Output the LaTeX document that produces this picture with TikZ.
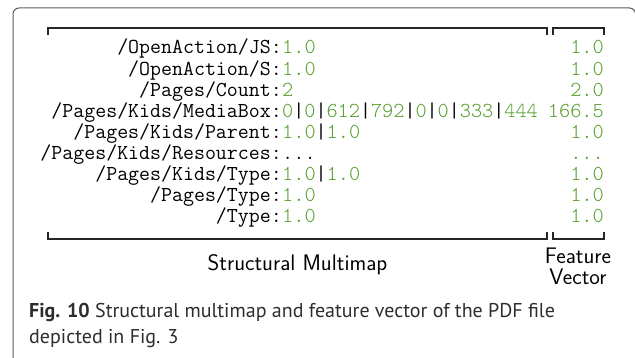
\documentclass[tikz,border=0pt]{standalone}
\usepackage{fontspec}
\newfontfamily\capfont{PT Sans}
\newfontfamily\valfont{lmmonolt10-regular.otf}
\definecolor{valgreen}{RGB}{84,158,44}
\definecolor{framegray}{RGB}{90,90,90}
\definecolor{captext}{RGB}{45,45,45}
% black separator between the green entries of a multimap value
\newcommand{\sep}{{\color{black}\ttfamily|}}
\tikzset{
  keytext/.style={anchor=base east, inner sep=0pt, font=\fontsize{21.3}{21}\selectfont\ttfamily},
  valtext/.style={anchor=base west, inner sep=0pt, text=valgreen, font=\fontsize{21.3}{21}\selectfont\valfont},
  feattext/.style={anchor=base east, inner sep=0pt, text=valgreen, font=\fontsize{21.3}{21}\selectfont\valfont},
  bracket/.style={line width=1.3pt, black!85},
  labeltext/.style={inner sep=0pt, font=\fontsize{22.5}{21}\selectfont\sffamily},
  captiontext/.style={anchor=base west, inner sep=0pt, text=captext, font=\fontsize{20}{26}\selectfont\capfont}
}
\begin{document}
\begin{tikzpicture}[x=1pt, y=-1pt]
\useasboundingbox (0,0) rectangle (635,358);
\clip (0,0) rectangle (635,358);
% outer frame
\draw[framegray, line width=1pt, rounded corners=6pt] (13,380) -- (13,8) -- (635.5,8) -- (635.5,380);
% brackets over and under the multimap and the feature vector
\draw[bracket] (48,35) -- (48,28) -- (547,28) -- (547,35);
\draw[bracket] (553,35) -- (553,28) -- (604,28) -- (604,35);
\draw[bracket] (48,232) -- (48,239) -- (547,239) -- (547,232);
\draw[bracket] (553,232) -- (553,239) -- (604,239) -- (604,232);
% multimap entries and feature values
\node[keytext] (k1) at (282,54) {/OpenAction/JS:};
\node[valtext] (v1) at (282,54) {1.0};
\node[feattext] (f1) at (604,54) {1.0};
\node[keytext] (k2) at (282,75.1) {/OpenAction/S:};
\node[valtext] (v2) at (282,75.1) {1.0};
\node[feattext] (f2) at (604,75.1) {1.0};
\node[keytext] (k3) at (282,96.2) {/Pages/Count:};
\node[valtext] (v3) at (282,96.2) {2};
\node[feattext] (f3) at (604,96.2) {2.0};
\node[keytext] (k4) at (282,117.4) {/Pages/Kids/MediaBox:};
\node[valtext] (v4) at (282,117.4) {0\sep0\sep612\sep792\sep0\sep0\sep333\sep444};
\node[feattext] (f4) at (604,117.4) {166.5};
\node[keytext] (k5) at (282,138.5) {/Pages/Kids/Parent:};
\node[valtext] (v5) at (282,138.5) {1.0\sep1.0};
\node[feattext] (f5) at (604,138.5) {1.0};
\node[keytext] (k6) at (282,159.6) {/Pages/Kids/Resources:};
\node[valtext, text=black] (v6) at (282,159.6) {...};
\node[feattext] (f6) at (604,159.6) {...};
\node[keytext] (k7) at (282,180.8) {/Pages/Kids/Type:};
\node[valtext] (v7) at (282,180.8) {1.0\sep1.0};
\node[feattext] (f7) at (604,180.8) {1.0};
\node[keytext] (k8) at (282,201.9) {/Pages/Type:};
\node[valtext] (v8) at (282,201.9) {1.0};
\node[feattext] (f8) at (604,201.9) {1.0};
\node[keytext] (k9) at (282,223) {/Type:};
\node[valtext] (v9) at (282,223) {1.0};
\node[feattext] (f9) at (604,223) {1.0};
% labels under the brackets
\node[labeltext] (mmlabel) at (297.5,265) {Structural Multimap};
\node[labeltext, align=center] (fvlabel) at (578,266.5) {Feature\\Vector};
% caption
\node[captiontext] (cap1) at (29,317) {\textbf{Fig. 10} Structural multimap and feature vector of the PDF file};
\node[captiontext] (cap2) at (29,343) {depicted in Fig. 3};
\end{tikzpicture}
\end{document}
